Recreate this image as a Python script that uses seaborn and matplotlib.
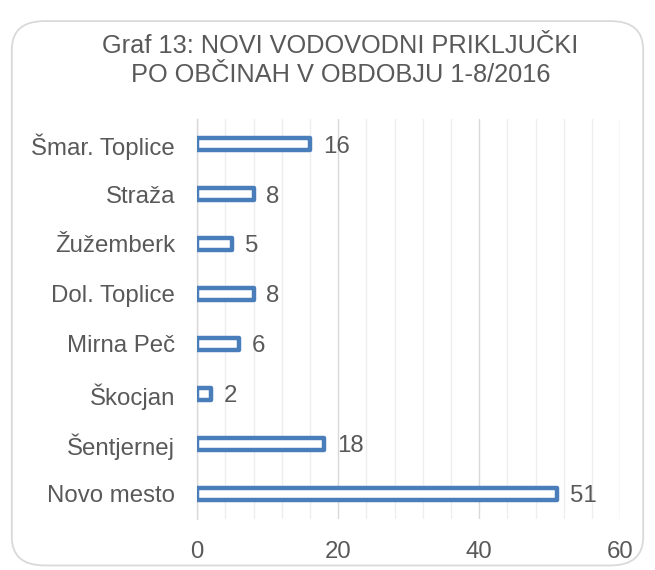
import matplotlib
matplotlib.use("Agg")
import matplotlib.pyplot as plt
import seaborn as sns
import pandas as pd
from matplotlib.patches import FancyBboxPatch

categories = ["Šmar. Toplice", "Straža", "Žužemberk", "Dol. Toplice",
              "Mirna Peč", "Škocjan", "Šentjernej", "Novo mesto"]
values = [16, 8, 5, 8, 6, 2, 18, 51]
xticks = [0, 20, 40, 60]
title = "Graf 13: NOVI VODOVODNI PRIKLJUČKI\nPO OBČINAH V OBDOBJU 1-8/2016"

df = pd.DataFrame({"cat": categories, "val": values})

sns.set_theme(style="white")
plt.rcParams['font.family'] = ['Liberation Sans', 'DejaVu Sans']

blue = "#4a7ebb"
txt = "#595959"
fs = 17.3

fig = plt.figure(figsize=(6.55, 5.7), dpi=100)
fig.patch.set_facecolor("white")
border = FancyBboxPatch((0.018, 0.008), 0.964, 0.955,
                        boxstyle="round,pad=0,rounding_size=0.05",
                        transform=fig.transFigure, facecolor="none",
                        edgecolor="#d9d9d9", linewidth=1.3, zorder=-1)
fig.patches.append(border)

ax = fig.add_axes([0.301, 0.09, 0.646, 0.701])
ax.set_facecolor("none")
sns.barplot(data=df, x="val", y="cat", orient="h", color="white",
            edgecolor=blue, linewidth=3.2, width=0.24, ax=ax, zorder=3)
for p in ax.patches:
    p.set_joinstyle("round")
    p.set_facecolor("white")

ax.set_xlim(0, 60)
ax.set_xticks(xticks)
ax.set_xticks(range(0, 61, 4), minor=True)
ax.grid(axis="x", which="major", color="#d9d9d9", linewidth=1.0, zorder=0)
ax.grid(axis="x", which="minor", color="#eeeeee", linewidth=1.0, zorder=0)
ax.set_axisbelow(True)
for s in ["top", "right", "bottom"]:
    ax.spines[s].set_visible(False)
ax.spines["left"].set_color("#d9d9d9")
ax.spines["left"].set_linewidth(1.0)
ax.set_xlabel("")
ax.set_ylabel("")
ax.tick_params(axis="x", which="both", length=0, pad=16, labelsize=fs, labelcolor=txt)
ax.tick_params(axis="y", length=0, pad=16, labelsize=fs, labelcolor=txt)
ax.set_yticks([i - 0.5 for i in range(len(categories) + 1)], minor=True)
ax.tick_params(axis="y", which="minor", length=9, color="#d9d9d9", width=1.0)
ax.set_ylim(len(categories) - 0.5, -0.5)

for i, v in enumerate(values):
    ax.text(v + 1.8, i, str(v), va="center_baseline", ha="left", fontsize=fs, color=txt)

fig.text(0.52, 0.894, title, ha="center", va="center", fontsize=18.3,
         color=txt, linespacing=1.3)

fig.savefig("out.png", dpi=100, facecolor="white")
